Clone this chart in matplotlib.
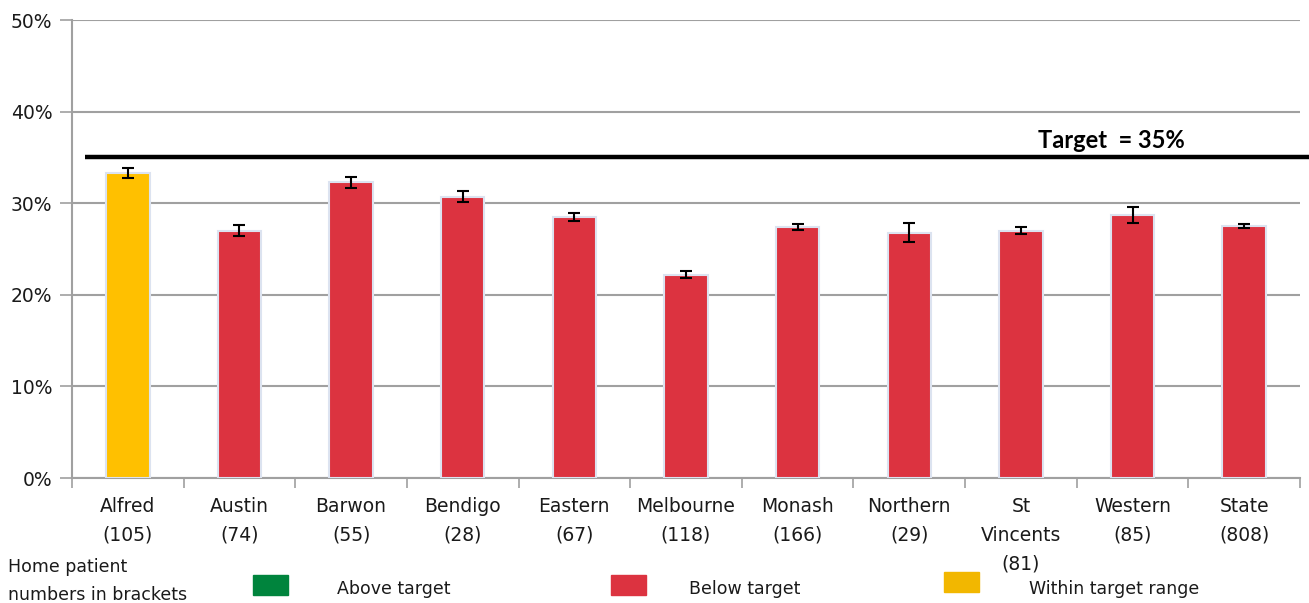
import matplotlib
matplotlib.use("Agg")
import matplotlib.pyplot as plt
from matplotlib.patches import Rectangle

categories = ["Alfred\n(105)", "Austin\n(74)", "Barwon\n(55)", "Bendigo\n(28)",
              "Eastern\n(67)", "Melbourne\n(118)", "Monash\n(166)", "Northern\n(29)",
              "St\nVincents\n(81)", "Western\n(85)", "State\n(808)"]
values = [33.3, 27.0, 32.3, 30.7, 28.5, 22.2, 27.4, 26.8, 27.0, 28.7, 27.5]
err_low = [0.55, 0.6, 0.6, 0.6, 0.4, 0.35, 0.3, 1.0, 0.4, 0.85, 0.2]
err_high = [0.55, 0.65, 0.6, 0.65, 0.4, 0.35, 0.3, 1.0, 0.4, 0.85, 0.2]
status = ["within", "below", "below", "below", "below", "below",
          "below", "below", "below", "below", "below"]
target = 35
yticks = [0, 10, 20, 30, 40, 50]
ytick_labels = ["0%", "10%", "20%", "30%", "40%", "50%"]

colors = {"above": "#00843D", "below": "#DC3340", "within": "#FFC000"}
legend_items = [("Above target", "#00843D"), ("Below target", "#DC3340"),
                ("Within target range", "#F2B700")]

plt.rcParams['font.family'] = ['DejaVu Sans']
TXT = "#1a1a1a"

W, H = 1309, 603
fig = plt.figure(figsize=(W / 100, H / 100), dpi=100)
ax = fig.add_axes([72 / W, (H - 478) / H, (1300 - 72) / W, (478 - 20) / H])

x = list(range(len(values)))
ax.bar(x, values, width=0.39, color=[colors[s] for s in status],
       edgecolor="#DCE3F0", linewidth=1.5, zorder=3)
ax.errorbar(x, values, yerr=[err_low, err_high], fmt="none", ecolor="black",
            elinewidth=1.5, capsize=4.5, capthick=1.5, zorder=4)

ax.set_xlim(-0.5, len(values) - 0.5)
ax.set_ylim(0, 50)
ax.set_yticks(yticks)
ax.set_yticklabels(ytick_labels, fontsize=13.5, color=TXT)
ax.yaxis.grid(True, color="#A0A0A0", linewidth=1.5, zorder=0)
ax.set_axisbelow(True)

ax.set_xticks(x)
ax.set_xticklabels(categories, fontsize=13.5, color=TXT, linespacing=1.62,
                   va="top")
ax.tick_params(axis="x", length=0, pad=14)
# category boundary ticks
ax.set_xticks([i - 0.5 for i in range(len(values) + 1)], minor=True)
ax.tick_params(axis="x", which="minor", length=7, width=1.2, color="#A0A0A0")
ax.tick_params(axis="y", length=9, width=1.2, color="#A0A0A0", pad=5)

for s in ["top", "right"]:
    ax.spines[s].set_visible(False)
for s in ["left", "bottom"]:
    ax.spines[s].set_color("#A0A0A0")
    ax.spines[s].set_linewidth(1.5)

# target line
ax.plot([-0.385, 10.58], [target, target], color="black", linewidth=3.2,
        clip_on=False, zorder=5, solid_capstyle="butt")
ax.text(8.81, target + 0.55, f"Target  = {target}%", fontsize=17,
        fontweight="bold", ha="center", va="bottom", color="black",
        family=["Lato", "DejaVu Sans"])

# bottom legend
fig.text(8 / W, 1 - 581 / H, "Home patient\nnumbers in brackets", fontsize=12.5,
         ha="left", va="center", linespacing=1.75, color=TXT)
sq_x = [253, 611, 944]
sq_y = [575, 575, 572]
txt_x = [337, 689, 1029]
for (label, col), sx, sy, tx in zip(legend_items, sq_x, sq_y, txt_x):
    fig.add_artist(Rectangle((sx / W, 1 - (sy + 20) / H), 35 / W, 20 / H,
                             transform=fig.transFigure, color=col))
    fig.text(tx / W, 1 - 589 / H, label, fontsize=12.5, ha="left", va="center",
             color=TXT)

fig.savefig("out.png", dpi=100)
